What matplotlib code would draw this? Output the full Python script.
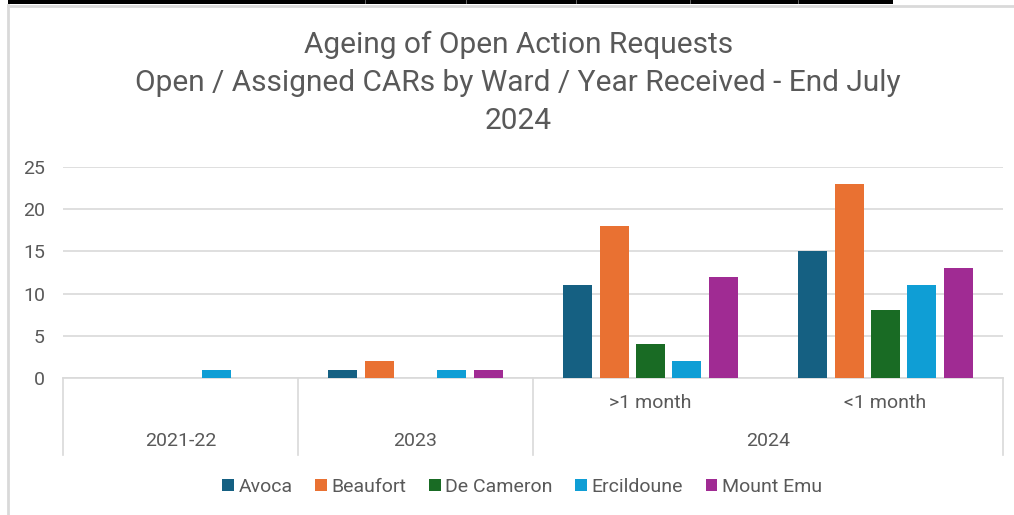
import numpy as np
import matplotlib
matplotlib.use("Agg")
import matplotlib.pyplot as plt
from matplotlib.patches import Rectangle
from matplotlib.lines import Line2D

# inner / outer category labels (multi-level axis like the spreadsheet chart)
INNER_LABELS = ["", "", ">1 month", "<1 month"]
OUTER_LABELS = ["2021-22", "2023", "2024"]
OUTER_SPANS = [(0, 0), (1, 1), (2, 3)]   # which inner slots each outer label covers

WARDS = ["Avoca", "Beaufort", "De Cameron", "Ercildoune", "Mount Emu"]
AVOCA = [0, 1, 11, 15]
BEAUFORT = [0, 2, 18, 23]
DE_CAMERON = [0, 0, 4, 8]
ERCILDOUNE = [1, 1, 2, 11]
MOUNT_EMU = [0, 1, 12, 13]

COLORS = ["#156082", "#E97132", "#196B24", "#0F9ED5", "#A02B93"]
TEXT_GREY = "#595959"
GRID_GREY = "#D9D9D9"

plt.rcParams["font.family"] = ["Roboto", "DejaVu Sans"]

fig = plt.figure(figsize=(10.14, 5.15), dpi=100)
ax = fig.add_axes([63 / 1014, 1 - 378 / 515, 940 / 1014, 211 / 515])

series = [AVOCA, BEAUFORT, DE_CAMERON, ERCILDOUNE, MOUNT_EMU]
x = np.arange(len(INNER_LABELS))
step, width = 0.155, 0.123
for i, (name, vals, col) in enumerate(zip(WARDS, series, COLORS)):
    ax.bar(x + (i - 2) * step, vals, width=width, color=col, label=name, zorder=3)

ax.set_xlim(-0.5, len(INNER_LABELS) - 0.5)
ax.set_ylim(0, 25)
ax.set_yticks([0, 5, 10, 15, 20, 25])
ax.yaxis.grid(True, color=GRID_GREY, linewidth=1.2)
ax.set_axisbelow(True)
for s in ["top", "right", "left"]:
    ax.spines[s].set_visible(False)
ax.spines["bottom"].set_color(GRID_GREY)
ax.spines["bottom"].set_linewidth(1.2)
ax.tick_params(axis="y", length=0, pad=13, labelsize=14, labelcolor=TEXT_GREY)
ax.set_xticks([])

# multi-level category axis drawn under the plot
trans = ax.get_xaxis_transform()
for xd in [-0.5, 0.5, 1.5, len(INNER_LABELS) - 0.5]:
    ax.add_line(Line2D([xd, xd], [0, -0.365], transform=trans, color=GRID_GREY,
                       linewidth=1.2, clip_on=False))
for xi, lab in zip(x, INNER_LABELS):
    if lab:
        ax.text(xi, -0.118, lab, transform=trans, ha="center", va="center",
                fontsize=14, color=TEXT_GREY)
for lab, (a, b) in zip(OUTER_LABELS, OUTER_SPANS):
    ax.text((a + b) / 2, -0.3, lab, transform=trans, ha="center", va="center",
            fontsize=14, color=TEXT_GREY)

fig.text(0.511, 1 - 83 / 515, "Ageing of Open Action Requests\n"
         "Open / Assigned CARs by Ward / Year Received - End July\n2024",
         ha="center", va="center", fontsize=21.5, color=TEXT_GREY, linespacing=1.45)

leg = fig.legend(loc="center", bbox_to_anchor=(0.515, 1 - 487 / 515), ncol=5,
                 frameon=False, fontsize=14, handlelength=0.6, handleheight=0.6,
                 handletextpad=0.25, columnspacing=1.15)
for t in leg.get_texts():
    t.set_color(TEXT_GREY)

# spreadsheet bits around the chart object
fig.add_artist(Rectangle((8 / 1014, 1 - 4 / 515), 885 / 1014, 4 / 515,
                         transform=fig.transFigure, color="black", lw=0))
for xd in [365, 466, 576, 690, 798]:
    fig.add_artist(Line2D([xd / 1014] * 2, [1 - 3 / 515, 1], transform=fig.transFigure,
                          color="#777777", linewidth=0.6))
fig.add_artist(Line2D([8 / 1014, 1], [1 - 6 / 515] * 2, transform=fig.transFigure,
                      color=GRID_GREY, linewidth=2))
fig.add_artist(Line2D([8 / 1014] * 2, [0, 1 - 5 / 515], transform=fig.transFigure,
                      color=GRID_GREY, linewidth=2))

fig.savefig("out.png", dpi=100)
